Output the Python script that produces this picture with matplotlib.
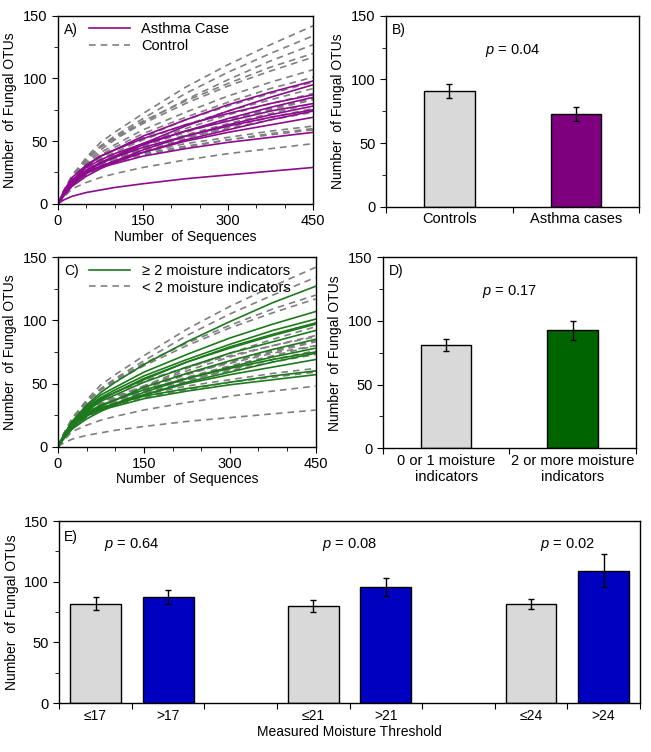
import numpy as np
import matplotlib
matplotlib.use("Agg")
from matplotlib import pyplot as plt
from matplotlib.ticker import MultipleLocator, FixedLocator, NullFormatter

plt.rcParams['font.family'] = ['Liberation Sans', 'DejaVu Sans']
plt.rcParams['font.size'] = 10
plt.rcParams['mathtext.fontset'] = 'custom'
plt.rcParams['mathtext.it'] = 'Liberation Sans:italic'
plt.rcParams['mathtext.rm'] = 'Liberation Sans'

# rarefaction curves, values read at these sequence depths
seq_depth = [0, 10, 25, 50, 75, 100, 150, 225, 300, 375, 450]
curves = [
    [0, 10, 22, 37, 49, 57, 72, 93, 111, 127, 142],
    [0, 10, 21, 35, 46, 54, 68, 88, 105, 120, 134],
    [0, 9, 20, 33, 43, 51, 65, 83, 99, 114, 127],
    [0, 10, 23, 36, 46, 53, 66, 82, 96, 109, 120],
    [0, 10, 22, 35, 45, 52, 64, 80, 94, 106, 117],
    [0, 9, 20, 32, 41, 47, 59, 73, 86, 97, 107],
    [0, 9, 19, 31, 39, 45, 56, 69, 81, 92, 101],
    [0, 8, 18, 30, 38, 43, 54, 67, 79, 89, 98],
    [0, 7, 15, 25, 33, 38, 48, 62, 74, 85, 95],
    [0, 8, 17, 28, 36, 41, 51, 63, 74, 83, 92],
    [0, 10, 21, 31, 38, 43, 52, 63, 72, 80, 87],
    [0, 8, 17, 26, 32, 37, 47, 58, 68, 77, 85],
    [0, 8, 17, 27, 34, 39, 48, 60, 71, 80, 88],
    [0, 7, 16, 25, 32, 37, 46, 58, 67, 76, 84],
    [0, 9, 19, 29, 35, 40, 48, 58, 66, 74, 80],
    [0, 7, 15, 24, 30, 34, 43, 54, 63, 71, 78],
    [0, 7, 16, 24, 30, 35, 44, 55, 64, 72, 80],
    [0, 7, 15, 23, 29, 34, 42, 52, 61, 69, 76],
    [0, 8, 18, 27, 33, 37, 45, 54, 62, 69, 75],
    [0, 6, 14, 22, 28, 33, 41, 51, 59, 67, 74],
    [0, 8, 17, 26, 32, 36, 44, 53, 60, 67, 73],
    [0, 8, 17, 25, 30, 34, 41, 50, 57, 63, 69],
    [0, 9, 19, 27, 32, 35, 41, 48, 53, 58, 62],
    [0, 8, 18, 26, 30, 33, 39, 45, 51, 55, 59],
    [0, 8, 17, 25, 29, 32, 38, 44, 49, 53, 57],
    [0, 8, 18, 26, 31, 34, 40, 46, 51, 56, 60],
    [0, 5, 12, 17, 21, 24, 29, 35, 40, 44, 48],
    [0, 3, 6, 9, 11, 13, 16, 20, 23, 26, 29],
    [0, 8, 18, 29, 37, 43, 53, 67, 78, 88, 97],
    [0, 7, 16, 25, 32, 37, 46, 57, 67, 75, 83],
]
# 1 = asthma case (panel A), 1 = >=2 moisture indicators (panel C)
is_case = [0, 0, 0, 0, 0, 0, 0, 1, 1, 0, 1, 1, 0, 0, 1,
           1, 0, 0, 1, 1, 0, 1, 0, 0, 1, 0, 0, 1, 0, 0]
is_moist = [0, 0, 1, 0, 0, 1, 1, 1, 0, 1, 0, 1, 0, 0, 0,
            1, 0, 0, 1, 1, 0, 1, 0, 0, 1, 1, 0, 0, 1, 0]

b_labels = ["Controls", "Asthma cases"]
b_means = [91, 73]
b_err = [5.3, 5.4]
b_p = "0.04"

d_labels = ["0 or 1 moisture\nindicators", "2 or more moisture\nindicators"]
d_means = [81, 92.7]
d_err = [4.8, 7.5]
d_p = "0.17"

e_labels = ["≤17", ">17", "≤21", ">21", "≤24", ">24"]
e_pos = [0.5, 1.5, 3.5, 4.5, 6.5, 7.5]
e_means = [81.8, 87.4, 80, 95.7, 81.5, 109]
e_err = [5.4, 6.1, 4.8, 7.3, 4.3, 13.5]
e_pvals = ["0.64", "0.08", "0.02"]
e_ppos = [1, 4, 7]

GRAY_BAR = "#d9d9d9"
PURPLE = "#8e0a8e"
PURPLE_BAR = "#7f007f"
GREEN = "#1c7a1c"
GREEN_BAR = "#006400"
BLUE = "#0000c0"
DASH = "#7f7f7f"

fig = plt.figure(figsize=(6.51, 7.52), dpi=100)
axA = fig.add_axes([0.089, 0.729, 0.392, 0.250])
axB = fig.add_axes([0.593, 0.725, 0.389, 0.254])
axC = fig.add_axes([0.089, 0.406, 0.396, 0.252])
axD = fig.add_axes([0.588, 0.404, 0.389, 0.254])
axE = fig.add_axes([0.091, 0.065, 0.892, 0.242])


def style_y(ax):
    ax.set_ylim(0, 150)
    ax.yaxis.set_major_locator(MultipleLocator(50))
    ax.yaxis.set_minor_locator(MultipleLocator(25))
    ax.tick_params(direction='out', length=4, labelsize=10.5)
    ax.tick_params(which='minor', direction='out', length=3)
    ax.set_ylabel("Number  of Fungal OTUs", fontsize=10)
    for s in ax.spines.values():
        s.set_linewidth(1.0)


def curve_panel(ax, group, color, labels, tag):
    for vals, g in zip(curves, group):
        if g == 0:
            ax.plot(seq_depth, vals, color=DASH, lw=1.2, ls=(0, (4, 3)))
    for vals, g in zip(curves, group):
        if g == 1:
            ax.plot(seq_depth, vals, color=color, lw=1.2)
    ax.set_xlim(0, 450)
    ax.xaxis.set_major_locator(MultipleLocator(150))
    ax.xaxis.set_minor_locator(MultipleLocator(50))
    style_y(ax)
    ax.set_xlabel("Number  of Sequences", fontsize=10, labelpad=1)
    h1, = ax.plot([], [], color=color, lw=1.2)
    h2, = ax.plot([], [], color=DASH, lw=1.2, ls=(0, (4, 3)))
    ax.legend([h1, h2], labels, loc='upper left', bbox_to_anchor=(0.07, 1.035),
              frameon=False, fontsize=10.5, handlelength=2.8, labelspacing=0.2)
    ax.text(0.025, 0.905, tag, transform=ax.transAxes, fontsize=10)


def bar_panel(ax, labels, means, errs, color, p, tag):
    ax.bar([0, 1], means, width=0.4, color=[GRAY_BAR, color], edgecolor='black',
           linewidth=1.0, yerr=errs, capsize=2.5, error_kw=dict(elinewidth=1, capthick=1))
    ax.set_xlim(-0.5, 1.5)
    ax.xaxis.set_major_locator(FixedLocator([-0.5, 0.5, 1.5]))
    ax.xaxis.set_major_formatter(NullFormatter())
    ax.set_xticks([0, 1], labels, minor=True)
    style_y(ax)
    ax.tick_params(axis='x', which='minor', length=0, labelsize=10.5, pad=4)
    ax.text(0.5, 0.80, "$p$ = " + p, transform=ax.transAxes, ha='center', fontsize=10.5)
    ax.text(0.025, 0.905, tag, transform=ax.transAxes, fontsize=10)


curve_panel(axA, is_case, PURPLE, ["Asthma Case", "Control"], "A)")
curve_panel(axC, is_moist, GREEN, ["≥ 2 moisture indicators", "< 2 moisture indicators"], "C)")
bar_panel(axB, b_labels, b_means, b_err, PURPLE_BAR, b_p, "B)")
bar_panel(axD, d_labels, d_means, d_err, GREEN_BAR, d_p, "D)")

# panel E
axE.bar(e_pos, e_means, width=0.7, color=[GRAY_BAR, BLUE] * 3, edgecolor='black',
        linewidth=1.0, yerr=e_err, capsize=2.5, error_kw=dict(elinewidth=1, capthick=1))
axE.set_xlim(0, 8)
axE.xaxis.set_major_locator(FixedLocator(range(9)))
axE.xaxis.set_major_formatter(NullFormatter())
axE.set_xticks(e_pos, e_labels, minor=True)
style_y(axE)
axE.tick_params(axis='x', which='minor', length=0, labelsize=10, pad=4)
axE.set_xlabel("Measured Moisture Threshold", fontsize=10, labelpad=2)
for x, p in zip(e_ppos, e_pvals):
    axE.text(x, 131, "$p$ = " + p, ha='center', va='center', fontsize=10.5)
axE.text(0.008, 0.89, "E)", transform=axE.transAxes, fontsize=10)

fig.savefig("out.png", dpi=100)
